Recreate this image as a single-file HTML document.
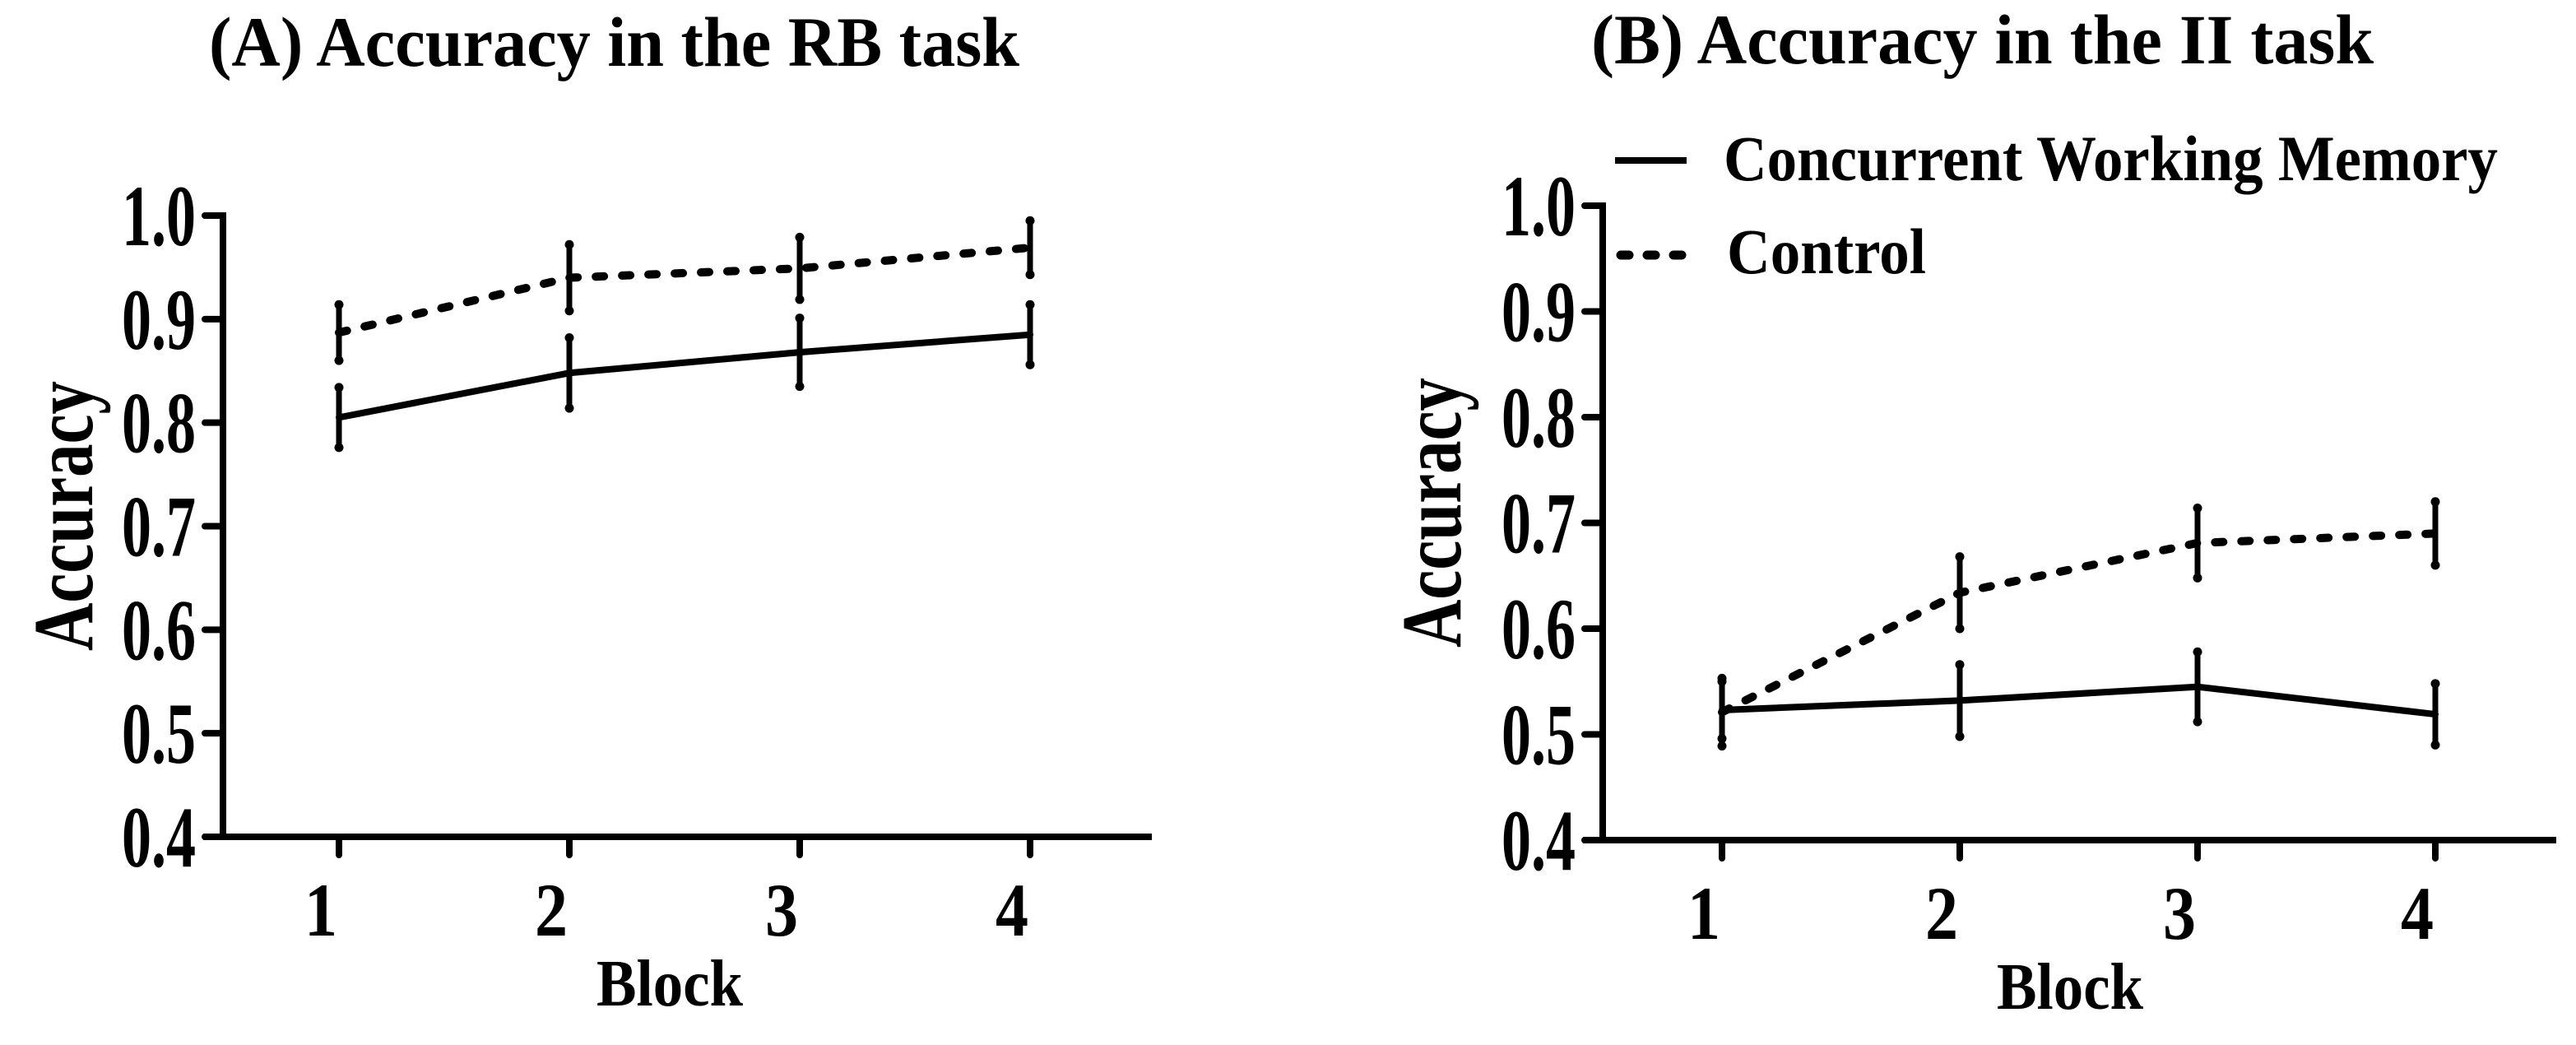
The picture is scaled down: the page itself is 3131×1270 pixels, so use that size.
<!DOCTYPE html>
<html><head><meta charset="utf-8"><style>
html,body{margin:0;padding:0;background:#fff;}
svg{display:block;}
text{font-family:"Liberation Serif",serif;font-weight:bold;fill:#000;}
</style></head><body>
<svg id="chart" width="3131" height="1270" viewBox="0 0 3131 1270" xmlns="http://www.w3.org/2000/svg"></svg>
<script>
const blocks = [1, 2, 3, 4];
const yTicks = [0.4, 0.5, 0.6, 0.7, 0.8, 0.9, 1.0];
const yTickLabels = ["0.4", "0.5", "0.6", "0.7", "0.8", "0.9", "1.0"];
const rbWorkingMemory = [0.805, 0.848, 0.868, 0.885];
const rbWorkingMemoryErr = [0.029, 0.034, 0.033, 0.029];
const rbControl = [0.887, 0.940, 0.949, 0.969];
const rbControlErr = [0.027, 0.032, 0.030, 0.026];
const iiWorkingMemory = [0.523, 0.532, 0.545, 0.519];
const iiWorkingMemoryErr = [0.027, 0.034, 0.033, 0.029];
const iiControl = [0.521, 0.634, 0.681, 0.690];
const iiControlErr = [0.032, 0.034, 0.033, 0.030];

const NS = "http://www.w3.org/2000/svg";
const svg = document.getElementById('chart');
function mk(tag, attrs, parent, txt) {
  const e = document.createElementNS(NS, tag);
  for (const k in attrs) e.setAttribute(k, attrs[k]);
  if (txt !== undefined) e.textContent = txt;
  (parent || svg).appendChild(e);
  return e;
}

function panel(cfg) {
  const g = mk('g', {});
  
  
  const sx = b => cfg.x1 + (b - 1) * cfg.bw;
  const sy = v => cfg.yBot - (v - 0.4) / 0.6 * (cfg.yBot - cfg.yTop);

  const t = mk('text', {x: cfg.titleX, y: cfg.titleY, 'font-size': 86, textLength: cfg.titleW, lengthAdjust: 'spacingAndGlyphs'}, g, cfg.title);
  
  

  const ya = mk('line', {x1: cfg.ax, y1: sy(1.0) - 4, x2: cfg.ax, y2: cfg.yBot + 4, stroke: '#000', 'stroke-width': 8}, g);
  
  
  const xa = mk('line', {x1: cfg.ax - 24, y1: cfg.yBot, x2: cfg.xEnd, y2: cfg.yBot, stroke: '#000', 'stroke-width': 8}, g);
  
  

  yTicks.forEach((v, i) => {
    const y = sy(v);
    const tk = mk('line', {x1: cfg.ax - 22, y1: y, x2: cfg.ax, y2: y, stroke: '#000', 'stroke-width': 8, 'stroke-linecap': 'round'}, g);
    
    
    const lb = mk('text', {x: cfg.ax - 33, y: y + 36, 'font-size': 106, 'text-anchor': 'end', textLength: 90, lengthAdjust: 'spacingAndGlyphs'}, g, yTickLabels[i]);
    
    
  });
  blocks.forEach(b => {
    const x = sx(b);
    const tk = mk('line', {x1: x, y1: cfg.yBot, x2: x, y2: cfg.yBot + 22, stroke: '#000', 'stroke-width': 8, 'stroke-linecap': 'round'}, g);
    
    
    const lb = mk('text', {x: x - 22, y: cfg.yBot + 120, 'font-size': 92, 'text-anchor': 'middle', textLength: 40, lengthAdjust: 'spacingAndGlyphs'}, g, String(b));
    
    
  });
  const xt = mk('text', {x: cfg.blockX, y: cfg.yBot + 205, 'font-size': 80, 'text-anchor': 'middle', textLength: 178, lengthAdjust: 'spacingAndGlyphs'}, g, 'Block');
  
  
  const yt = mk('text', {x: 0, y: 0, 'font-size': 104, 'text-anchor': 'middle', textLength: 328, lengthAdjust: 'spacingAndGlyphs', transform: `translate(${cfg.ylabX},${cfg.ylabY}) rotate(-90)`}, g, 'Accuracy');
  
  

  function series(vals, errs, dashed, name) {
    const pts = vals.map((v, i) => sx(blocks[i]) + ',' + sy(v)).join(' ');
    const pl = mk('polyline', {points: pts, fill: 'none', stroke: '#000', 'stroke-width': dashed ? 10 : 8, 'stroke-linecap': 'round', 'stroke-linejoin': 'round'}, g);
    if (dashed) pl.setAttribute('stroke-dasharray', '10 22');
    
    
    vals.forEach((v, i) => {
      const x = sx(blocks[i]);
      const eb = mk('line', {x1: x, y1: sy(v + errs[i]), x2: x, y2: sy(v - errs[i]), stroke: '#000', 'stroke-width': 7}, g);
      
      
      [v + errs[i], v - errs[i]].forEach(e => {
        const c = mk('circle', {cx: x, cy: sy(e), r: 5.5, fill: '#000'}, g);
        
        
      });
    });
  }
  series(cfg.wm, cfg.wmErr, false, 'working-memory');
  series(cfg.ctl, cfg.ctlErr, true, 'control');
}

panel({name: 'panel-a-rb', title: '(A) Accuracy in the RB task', titleX: 254, titleY: 80, titleW: 985,
  ax: 271, x1: 412, bw: 280, xEnd: 1400, yTop: 262, yBot: 1017, blockX: 814, ylabX: 112, ylabY: 627,
  wm: rbWorkingMemory, wmErr: rbWorkingMemoryErr, ctl: rbControl, ctlErr: rbControlErr});
panel({name: 'panel-b-ii', title: '(B) Accuracy in the II task', titleX: 1934, titleY: 77, titleW: 951,
  ax: 1948, x1: 2093, bw: 289, xEnd: 3107, yTop: 250, yBot: 1021, blockX: 2516, ylabX: 1775, ylabY: 623,
  wm: iiWorkingMemory, wmErr: iiWorkingMemoryErr, ctl: iiControl, ctlErr: iiControlErr});

const lg = mk('g', {});


const l1 = mk('line', {x1: 1963, y1: 195, x2: 2050, y2: 195, stroke: '#000', 'stroke-width': 8}, lg);


const t1 = mk('text', {x: 2095, y: 219, 'font-size': 78, textLength: 941, lengthAdjust: 'spacingAndGlyphs'}, lg, 'Concurrent Working Memory');


const l2 = mk('line', {x1: 1970, y1: 310, x2: 2050, y2: 310, stroke: '#000', 'stroke-width': 11, 'stroke-dasharray': '10 22', 'stroke-linecap': 'round'}, lg);


const t2 = mk('text', {x: 2099, y: 332, 'font-size': 78, textLength: 242, lengthAdjust: 'spacingAndGlyphs'}, lg, 'Control');


</script>
</body></html>
